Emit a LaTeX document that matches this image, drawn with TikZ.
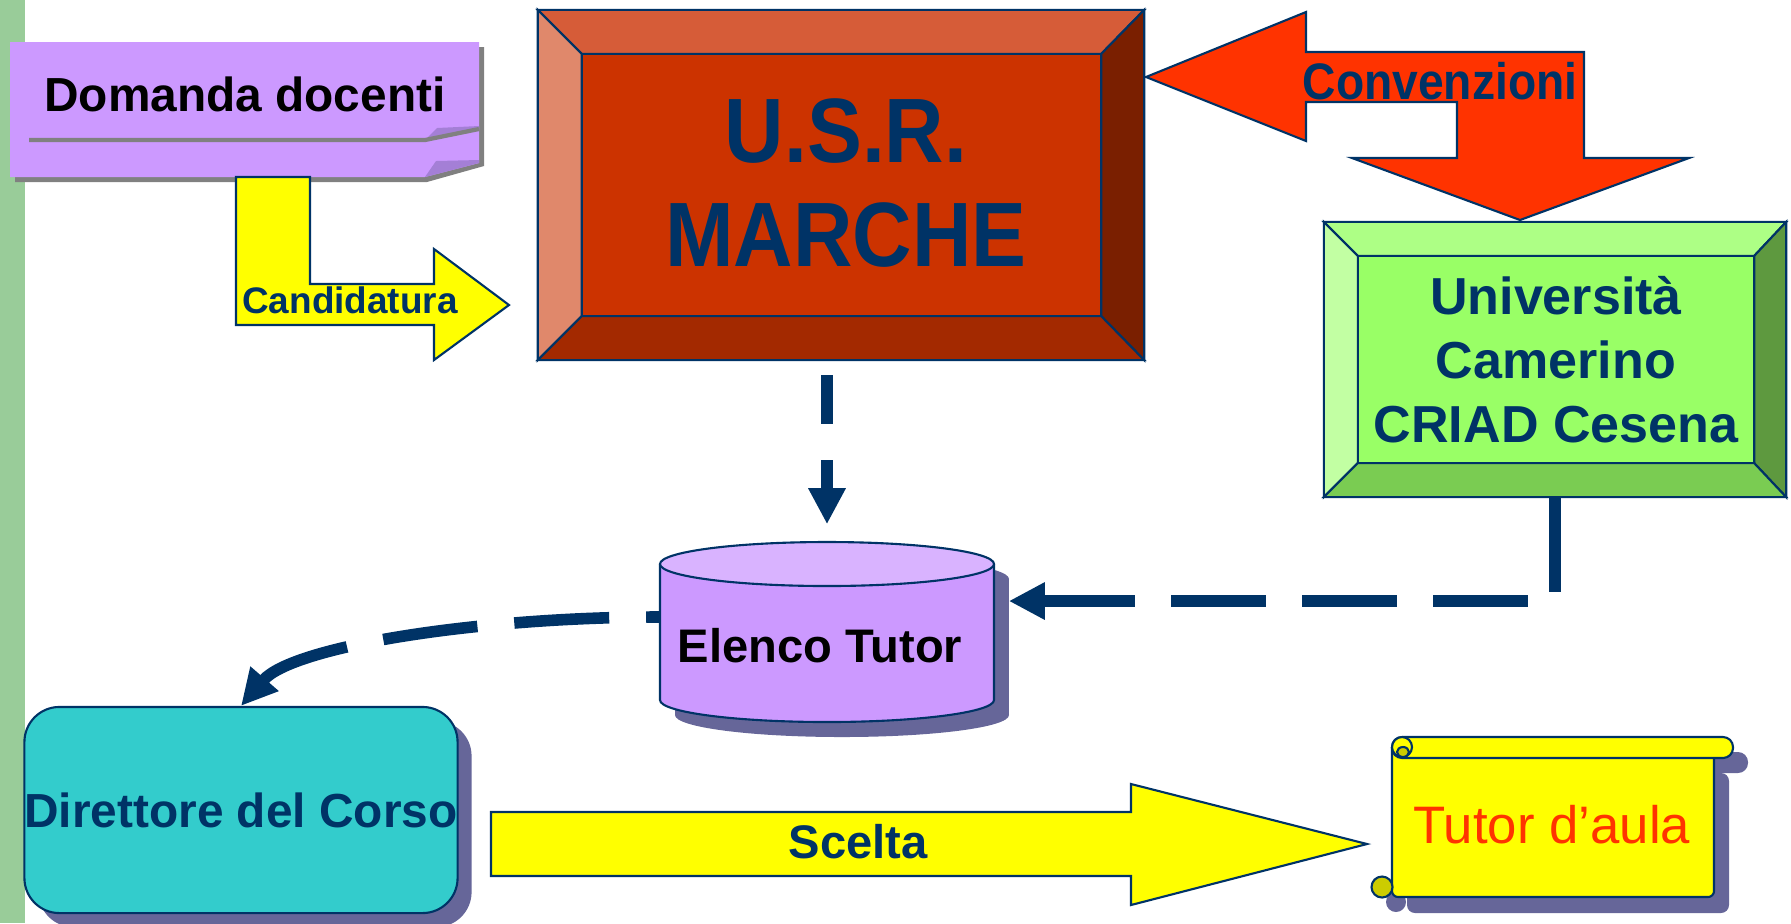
\documentclass[tikz,border=0pt]{standalone}
\usepackage{fontspec}
\setmainfont{Liberation Sans}
\newfontfamily\narrowfont[FakeStretch=0.9]{Liberation Sans}
\usepackage{tikz}
\usetikzlibrary{arrows.meta,shadows}

\definecolor{navy}{HTML}{003366}
\definecolor{barg}{HTML}{99CC99}
\definecolor{notepurple}{HTML}{CC99FF}
\definecolor{foldpurple}{HTML}{A47FD6}
\definecolor{notegrey}{HTML}{808080}
\definecolor{usrmid}{HTML}{CC3300}
\definecolor{usrtop}{HTML}{D65C38}
\definecolor{usrleft}{HTML}{E0886B}
\definecolor{usrright}{HTML}{7A1F00}
\definecolor{usrbot}{HTML}{A32900}
\definecolor{convred}{HTML}{FF3300}
\definecolor{unimid}{HTML}{99FF66}
\definecolor{unitop}{HTML}{ADFF85}
\definecolor{unileft}{HTML}{C2FFA3}
\definecolor{uniright}{HTML}{5E993F}
\definecolor{unibot}{HTML}{7ACC52}
\definecolor{cyltop}{HTML}{D9B3FF}
\definecolor{cylbody}{HTML}{CC99FF}
\definecolor{shadowblue}{HTML}{666699}
\definecolor{dircyan}{HTML}{33CCCC}
\definecolor{arrowyellow}{HTML}{FFFF00}
\definecolor{curl}{HTML}{CCCC00}

\begin{document}
\begin{tikzpicture}[x=0.01cm, y=-0.01cm,
  edge/.style={draw=navy, line width=0.6pt},
  lbl/.style={text=navy, inner sep=0pt},
  flow/.style={navy, line width=3.3pt, -{Triangle[length=0.36cm, width=0.35cm]}}]
  \useasboundingbox (0,0) rectangle (1791,923);

  % left bar
  \fill[barg] (0,0) rectangle (25,923);

  % Domanda docenti
  \fill[notegrey] (15,47) -- (484,47) -- (484,166) -- (427,182) -- (15,182) -- cycle;
  \fill[notepurple] (10,42) -- (479,42) -- (479,163) -- (425,177) -- (10,177) -- cycle;
  \fill[foldpurple] (425,177) -- (436,161) -- (479,160) -- (479,163) -- cycle;
  \fill[foldpurple] (425,140) -- (437,128) -- (479,126) -- (479,129) -- cycle;
  \draw[notegrey, line width=1.2pt] (29,140) -- (425,140) -- (479,129);
  \node[inner sep=0pt, anchor=base, font=\bfseries\fontsize{13.6}{16}\selectfont] (domanda) at (245,111) {Domanda docenti};

  % Candidatura
  \draw[edge, fill=arrowyellow] (236,177) -- (310,177) -- (310,284) -- (434,284) -- (434,249) -- (509,305) -- (434,360) -- (434,325) -- (236,325) -- cycle;
  \node[lbl, anchor=base, font=\bfseries\fontsize{10.5}{12}\selectfont] (candidatura) at (350,313) {Candidatura};

  % U.S.R. Marche
  \node[edge, fill=usrmid, minimum width=6.04cm, minimum height=3.48cm] (usr) at (841,185) {};
  \draw[edge, fill=usrtop] (usr.north west) -- (usr.north east) -- ([shift={(-43,44)}]usr.north east) -- ([shift={(44,44)}]usr.north west) -- cycle;
  \draw[edge, fill=usrleft] (usr.north west) -- ([shift={(44,44)}]usr.north west) -- ([shift={(44,-44)}]usr.south west) -- (usr.south west) -- cycle;
  \draw[edge, fill=usrright] (usr.north east) -- ([shift={(-43,44)}]usr.north east) -- ([shift={(-43,-44)}]usr.south east) -- (usr.south east) -- cycle;
  \draw[edge, fill=usrbot] (usr.south west) -- ([shift={(44,-44)}]usr.south west) -- ([shift={(-43,-44)}]usr.south east) -- (usr.south east) -- cycle;
  \node[lbl, align=center, font=\narrowfont\bfseries\fontsize{26}{29.3}\selectfont] (usrtext) at (846,183) {U.S.R.\\MARCHE};

  % Convenzioni
  \draw[edge, fill=convred] (1146,77) -- (1306,12) -- (1306,52) -- (1584,52) -- (1584,158) -- (1689,158) -- (1520,220) -- (1352,158) -- (1457,158) -- (1457,102) -- (1306,102) -- (1306,141) -- cycle;
  \node[lbl, anchor=base, font=\narrowfont\bfseries\fontsize{14.6}{17}\selectfont] (convenzioni) at (1440,99) {Convenzioni};

  % Universita
  \node[edge, fill=unimid, minimum width=4.60cm, minimum height=2.73cm] (univ) at (1555,359.5) {};
  \draw[edge, fill=unitop] (univ.north west) -- (univ.north east) -- ([shift={(-32,34)}]univ.north east) -- ([shift={(34,34)}]univ.north west) -- cycle;
  \draw[edge, fill=unileft] (univ.north west) -- ([shift={(34,34)}]univ.north west) -- ([shift={(34,-34)}]univ.south west) -- (univ.south west) -- cycle;
  \draw[edge, fill=uniright] (univ.north east) -- ([shift={(-32,34)}]univ.north east) -- ([shift={(-32,-34)}]univ.south east) -- (univ.south east) -- cycle;
  \draw[edge, fill=unibot] (univ.south west) -- ([shift={(34,-34)}]univ.south west) -- ([shift={(-32,-34)}]univ.south east) -- (univ.south east) -- cycle;
  \node[lbl, align=center, font=\bfseries\fontsize{14.8}{18.2}\selectfont] (univtext) at (1556,360) {Università\\Camerino\\CRIAD Cesena};

  % Elenco Tutor
  \fill[shadowblue] (675,579) rectangle (1009,715);
  \fill[shadowblue] (842,715) ellipse [x radius=167, y radius=22];
  \fill[shadowblue] (842,579) ellipse [x radius=167, y radius=22];
  \fill[cylbody] (660,564) rectangle (994,700);
  \fill[cylbody] (827,700) ellipse [x radius=167, y radius=22];
  \draw[edge] (660,564) -- (660,700) arc[start angle=180, end angle=0, x radius=167, y radius=22] -- (994,564);
  \draw[edge, fill=cyltop] (827,564) ellipse [x radius=167, y radius=22];
  \node[minimum width=3.34cm, minimum height=1.80cm, inner sep=0pt] (elenco) at (827,632) {};
  \node[inner sep=0pt, anchor=base, font=\bfseries\fontsize{13.4}{16}\selectfont] (elencotext) at (820,662) {Elenco Tutor};

  % Direttore del Corso
  \node[edge, fill=dircyan, rounded corners=0.35cm, minimum width=4.32cm, minimum height=2.06cm, inner sep=0pt,
    drop shadow={shadow xshift=0.14cm, shadow yshift=-0.14cm, fill=shadowblue, opacity=1},
    text=navy, font=\bfseries\fontsize{13.6}{16}\selectfont] (direttore) at (241,810) {Direttore del Corso};

  % Scelta
  \draw[edge, fill=arrowyellow] (491,812) -- (1131,812) -- (1131,784) -- (1367,844) -- (1131,905) -- (1131,876) -- (491,876) -- cycle;
  \node[lbl, anchor=base, font=\bfseries\fontsize{13.4}{16}\selectfont] (scelta) at (858,858) {Scelta};

  % Tutor d'aula
  \fill[shadowblue, rounded corners=0.08cm] (1407,773) rectangle (1729,913);
  \fill[shadowblue, rounded corners=0.1cm] (1407,752) rectangle (1748,773);
  \fill[shadowblue] (1396,902) circle (10);
  \draw[edge, fill=arrowyellow, rounded corners=0.06cm] (1392,747) -- (1392,897) -- (1714,897) -- (1714,757);
  \draw[edge, fill=arrowyellow, rounded corners=0.1cm] (1392,737) rectangle (1733,758);
  \draw[edge, fill=arrowyellow] (1402,747) circle (10);
  \draw[edge, fill=curl] (1403,752) circle [x radius=6, y radius=5];
  \draw[edge, fill=curl] (1382,887) circle (10.5);
  \node[inner sep=0pt, anchor=base, text=convred, font=\fontsize{15}{18}\selectfont] (tutor) at (1552,843) {Tutor d’aula};

  % dashed links
  \draw[flow, dash pattern=on 0.49cm off 0.36cm, shorten <=0.15cm, shorten >=0.17cm] ([shift={(-14,0)}]usr.south) -- (elenco.north);
  \draw[flow, dash pattern=on 0.95cm off 0.36cm] (univ.south) |- ([shift={(14,-31)}]elenco.east);
  \draw[flow, dash pattern=on 0.95cm off 0.37cm, dash phase=0.82cm] ([shift={(0,-15)}]elenco.west) .. controls (480,617) and (293,646) .. (direttore.north);
\end{tikzpicture}
\end{document}
